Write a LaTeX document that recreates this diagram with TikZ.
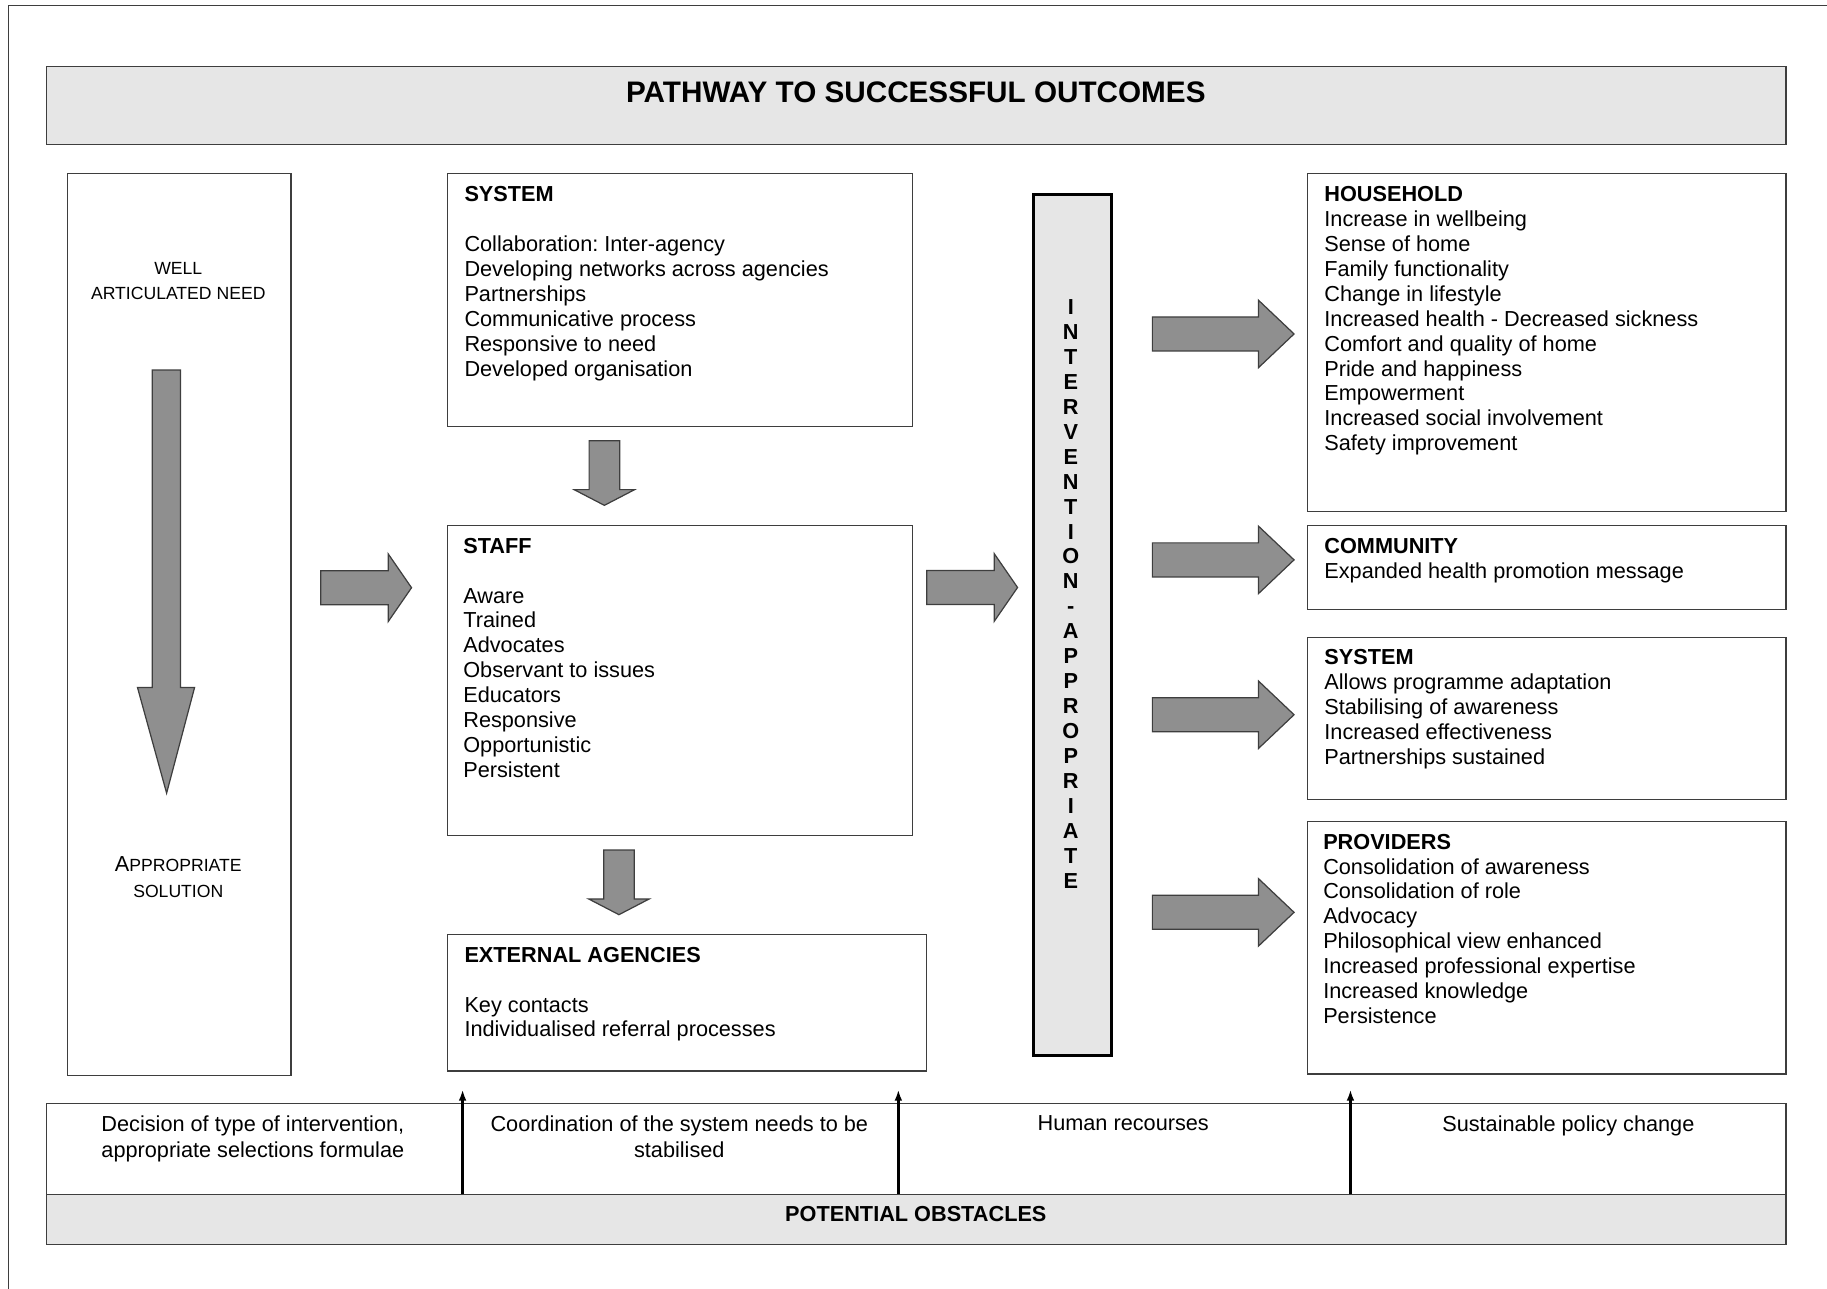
\documentclass[tikz,border=0pt]{standalone}
\usepackage{fontspec}
\setmainfont{Liberation Sans}
\usepackage{xcolor}
\usepackage{tikz}
\usetikzlibrary{fit,arrows.meta}

\definecolor{panelgray}{RGB}{230,230,230}
\definecolor{linegray}{RGB}{62,62,62}
\definecolor{arrowgray}{RGB}{143,143,143}

\begin{document}
\begin{tikzpicture}[x=0.02cm, y=-0.02cm,
  box/.style={draw=linegray, line width=0.8pt, inner sep=0pt},
  band/.style={box, fill=panelgray},
  items/.style={anchor=north west, align=left, inner sep=0pt, font=\fontsize{10.6}{12.2}\selectfont},
  caption/.style={anchor=north, align=center, inner sep=0pt, font=\fontsize{10.6}{12.6}\selectfont},
  blockarrow/.style={draw=linegray, line width=0.6pt, fill=arrowgray},
  obstacle/.style={line width=1.4pt, -{Latex[length=5.5pt,width=3.8pt]}},
  longarrow/.pic={\draw[blockarrow] (0,-14.6) -- (91,-14.6) -- (91,-29) -- (121.6,0) -- (91,29) -- (91,14.6) -- (0,14.6) -- cycle;},
  shortarrow/.pic={\draw[blockarrow] (0,-14.6) -- (58,-14.6) -- (58,-29) -- (78,0) -- (58,29) -- (58,14.6) -- (0,14.6) -- cycle;},
  droparrow/.pic={\draw[blockarrow] (-13.1,0) -- (-13.1,42) -- (-26,42) -- (0,55.5) -- (26,42) -- (13.1,42) -- (13.1,0) -- cycle;}]
\useasboundingbox (0,0) rectangle (1568,1106);

% frame
\draw[linegray, line width=0.6pt] (7,1106) -- (7,4.5) -- (1568,4.5);

% title
\node[band, fit={(40,57) (1533,124)}] (title) {};
\node[inner sep=0pt, font=\fontsize{14.5}{16}\selectfont\bfseries] (titletxt) at (786,79) {PATHWAY TO SUCCESSFUL OUTCOMES};

% need -> solution
\node[box, fit={(58,149) (250,923)}] (need) {};
\node[caption, font=\fontsize{8.6}{12.5}\selectfont] (well) at (153,224.5) {WELL\\ARTICULATED NEED};
\node[caption, font=\fontsize{10.6}{12.5}\selectfont] (solution) at (153,735) {A{\fontsize{8.6}{12.5}\selectfont PPROPRIATE}\\{\fontsize{8.6}{12.5}\selectfont SOLUTION}};
\draw[blockarrow] (130.7,317.6) -- (130.7,590) -- (118,590) -- (143,680.7) -- (167,590) -- (155,590) -- (155,317.6) -- cycle;

% middle column
\node[box, fit={(384,149) (783,366)}] (system) {};
\node[items] (systemtxt) at ([shift={(15,11)}]system.north west) {\textbf{SYSTEM}\\[12.2pt]
  Collaboration:\ Inter-agency\\Developing networks across agencies\\Partnerships\\
  Communicative process\\Responsive to need\\Developed organisation};

\node[box, fit={(384,451) (783,717)}] (staff) {};
\node[items] (stafftxt) at ([shift={(14,11)}]staff.north west) {\textbf{STAFF}\\[12.2pt]
  Aware\\Trained\\Advocates\\Observant to issues\\Educators\\Responsive\\Opportunistic\\Persistent};

\node[box, fit={(384,802) (795,919)}] (agencies) {};
\node[items] (agenciestxt) at ([shift={(15,11)}]agencies.north west) {\textbf{EXTERNAL AGENCIES}\\[12.2pt]
  Key contacts\\Individualised referral processes};

\pic at (518.7,378.2) {droparrow};
\pic at (531.2,729.5) {droparrow};
\pic at (275.2,504.4) {shortarrow};
\pic at (795.3,504.2) {shortarrow};

% intervention
\node[fill=panelgray, draw=black, line width=1.7pt, inner sep=0pt, fit={(887,167) (954,906)}] (intervention) {};
\node[anchor=north, align=center, inner sep=0pt, font=\fontsize{10.6}{12.2}\selectfont\bfseries] (interventiontxt) at (919,256.5)
  {I\\N\\T\\E\\R\\V\\E\\N\\T\\I\\O\\N\\-\\A\\P\\P\\R\\O\\P\\R\\I\\A\\T\\E};

% outcomes
\node[box, fit={(1122,149) (1533,439)}] (household) {};
\node[items] (householdtxt) at ([shift={(15,11)}]household.north west) {\textbf{HOUSEHOLD}\\
  Increase in wellbeing\\Sense of home\\Family functionality\\Change in lifestyle\\
  Increased health - Decreased sickness\\Comfort and quality of home\\Pride and happiness\\
  Empowerment\\Increased social involvement\\Safety improvement};

\node[box, fit={(1122,451) (1533,523)}] (community) {};
\node[items] (communitytxt) at ([shift={(15,11)}]community.north west) {\textbf{COMMUNITY}\\Expanded health promotion message};

\node[box, fit={(1122,547) (1533,686)}] (outsystem) {};
\node[items] (outsystemtxt) at ([shift={(15,11)}]outsystem.north west) {\textbf{SYSTEM}\\
  Allows programme adaptation\\Stabilising of awareness\\Increased effectiveness\\Partnerships sustained};

\node[box, fit={(1122,705) (1533,922)}] (providers) {};
\node[items] (providerstxt) at ([shift={(14,11)}]providers.north west) {\textbf{PROVIDERS}\\
  Consolidation of awareness\\Consolidation of role\\Advocacy\\Philosophical view enhanced\\
  Increased professional expertise\\Increased knowledge\\Persistence};

\pic at (989,286.6) {longarrow};
\pic at (989,480.5) {longarrow};
\pic at (989,613.4) {longarrow};
\pic at (989,783) {longarrow};

% obstacles
\node[box, fit={(40,947) (1533,1025)}] (hurdles) {};
\node[band, fit={(40,1025) (1533,1068)}] (obstacles) {};
\node[inner sep=0pt, font=\fontsize{10.6}{12}\selectfont\bfseries] (obstaclestxt) at (786,1042) {POTENTIAL OBSTACLES};

\node[caption] (decision) at (217,957) {Decision of type of intervention,\\appropriate selections formulae};
\node[caption] (coordination) at (583,957) {Coordination of the system needs to be\\stabilised};
\node[caption] (human) at (964,957) {Human recourses};
\node[caption] (policy) at (1346,957) {Sustainable policy change};

\foreach \x/\n in {397/1, 771/2, 1159/3} {
  \coordinate (foot\n) at (\x,1025);
  \coordinate (tip\n) at (\x,935);
  \draw[obstacle] (foot\n) -- (tip\n);
}
\end{tikzpicture}
\end{document}
